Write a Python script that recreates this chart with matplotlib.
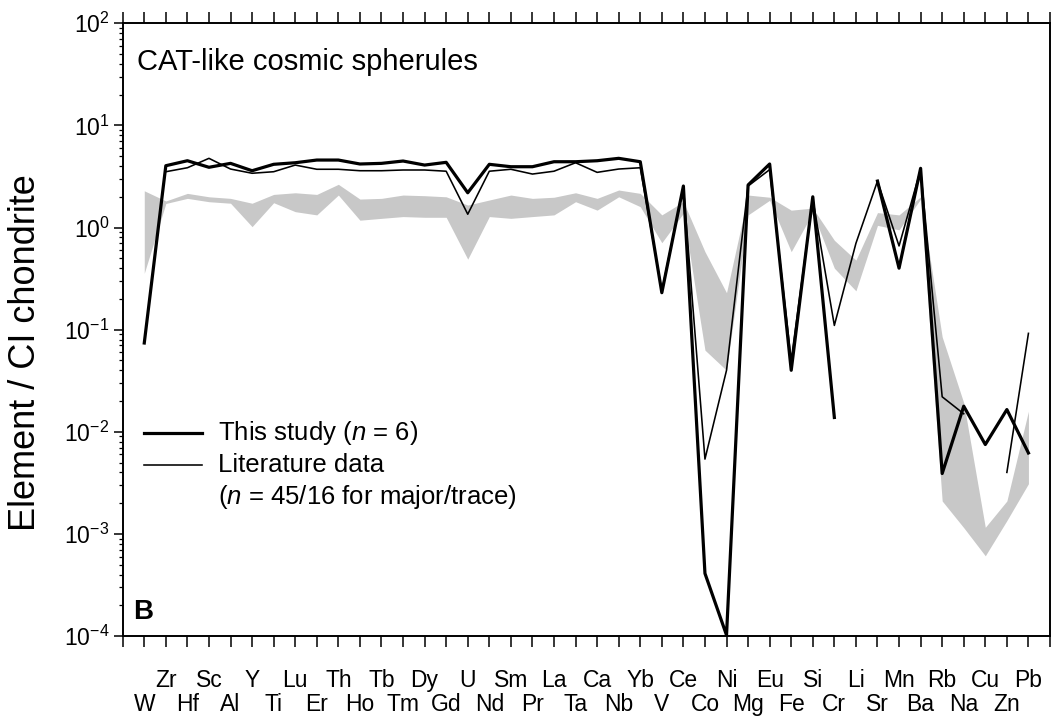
import numpy as np
import matplotlib
matplotlib.use("Agg")
import matplotlib.pyplot as plt
from matplotlib.ticker import LogLocator, LogFormatterSciNotation, NullFormatter, FixedLocator, FixedFormatter

plt.rcParams['font.family'] = ['Liberation Sans', 'DejaVu Sans']
plt.rcParams['mathtext.fontset'] = 'custom'
plt.rcParams['mathtext.rm'] = 'Liberation Sans'
plt.rcParams['mathtext.it'] = 'Liberation Sans:italic'
plt.rcParams['mathtext.bf'] = 'Liberation Sans:bold'
plt.rcParams['axes.unicode_minus'] = False

# Elements ordered by volatility, CI-chondrite normalised
elements = ['W', 'Zr', 'Hf', 'Sc', 'Al', 'Y', 'Ti', 'Lu', 'Er', 'Th', 'Ho', 'Tb',
            'Tm', 'Dy', 'Gd', 'U', 'Nd', 'Sm', 'Pr', 'La', 'Ta', 'Ca', 'Nb', 'Yb',
            'V', 'Ce', 'Co', 'Ni', 'Mg', 'Eu', 'Fe', 'Si', 'Cr', 'Li', 'Sr', 'Mn',
            'Ba', 'Rb', 'Na', 'Cu', 'Zn', 'Pb']

this_study = [0.074, 4.03, 4.51, 3.89, 4.25, 3.60, 4.16, 4.31, 4.58, 4.58, 4.19, 4.25,
              4.48, 4.09, 4.35, 2.19, 4.16, 3.94, 3.94, 4.41, 4.41, 4.51, 4.76, 4.41,
              0.23, 2.55, 4.1e-4, 1.02e-4, 2.61, 4.19, 0.040, 2.0, 0.0138, np.nan, 2.85, 0.40,
              3.8, 0.0039, 0.0178, 0.0075, 0.0165, 0.0062]

literature = [np.nan, 3.52, 3.85, 4.76, 3.74, 3.40, 3.52, 4.09, 3.72, 3.72, 3.60, 3.60,
              3.66, 3.66, 3.56, 1.35, 3.56, 3.72, 3.34, 3.56, 4.31, 3.47, 3.74, 3.85,
              0.24, 2.5, 0.0054, 0.040, 2.55, 3.69, 0.05, 1.9, 0.11, 0.70, 2.85, 0.66,
              3.7, 0.022, 0.015, np.nan, 0.0040, 0.092]

band_low = [0.356, 1.72, 1.93, 1.79, 1.73, 1.02, 1.75, 1.43, 1.33, 2.08, 1.18, 1.23,
            1.28, 1.26, 1.26, 0.49, 1.28, 1.23, 1.28, 1.33, 1.79, 1.48, 2.0, 1.6,
            0.71, 1.38, 0.063, 0.040, 1.33, 1.85, 0.58, 1.4, 0.4, 0.24, 1.05, 0.95,
            1.9, 0.0021, 0.00115, 0.00061, 0.00135, 0.0031]

band_high = [2.29, 1.82, 2.16, 2.0, 1.93, 1.73, 2.11, 2.19, 2.11, 2.65, 1.90, 1.93,
             2.08, 2.05, 2.0, 1.66, 1.86, 2.08, 1.93, 1.98, 2.19, 1.93, 2.33, 2.16,
             1.33, 1.79, 0.58, 0.23, 2.08, 1.98, 1.48, 1.55, 0.75, 0.48, 1.4, 1.33,
             2.0, 0.085, 0.0192, 0.00116, 0.0021, 0.0159]

x = np.arange(len(elements))

fig = plt.figure(figsize=(10.52, 7.16), dpi=100)
ax = fig.add_axes([122.7 / 1052, 80 / 716, 927.3 / 1052, 612.7 / 716])

ax.fill_between(x, band_low, band_high, color='#c8c8c8', linewidth=0, zorder=1)
ax.plot(x, literature, color='black', linewidth=1.15, zorder=3)
ax.plot(x, this_study, color='black', linewidth=2.3, zorder=4)

ax.set_yscale('log')
ax.set_ylim(1e-4, 1e2)
ax.set_xlim(-1, len(elements))

# category ticks: odd positions on the upper label row (major),
# even positions on the lower label row (minor)
n = len(elements)
upper_pos = list(range(-1, n + 1, 2))
lower_pos = list(range(0, n + 1, 2))
upper_lab = [elements[p] if 0 <= p < n else '' for p in upper_pos]
lower_lab = [elements[p] if 0 <= p < n else '' for p in lower_pos]
ax.xaxis.set_major_locator(FixedLocator(upper_pos))
ax.xaxis.set_major_formatter(FixedFormatter(upper_lab))
ax.xaxis.set_minor_locator(FixedLocator(lower_pos))
ax.xaxis.set_minor_formatter(FixedFormatter(lower_lab))
ax.tick_params(axis='x', which='both', direction='out', length=7.7, width=1.1,
               top=True, labeltop=False, labelsize=16.5)
ax.tick_params(axis='x', which='major', pad=16)
ax.tick_params(axis='x', which='minor', pad=33.5)

ax.yaxis.set_major_locator(LogLocator(base=10, numticks=10))
ax.yaxis.set_minor_locator(LogLocator(base=10, subs=np.arange(2, 10), numticks=20))
ax.yaxis.set_major_formatter(LogFormatterSciNotation())
ax.yaxis.set_minor_formatter(NullFormatter())
ax.tick_params(axis='y', which='major', direction='out', length=6.5, width=1.1,
               labelsize=16.5, pad=3, right=False)
ax.tick_params(axis='y', which='minor', direction='out', length=3.2, width=0.9, right=False)

for s in ax.spines.values():
    s.set_linewidth(1.4)

ax.text(-0.105, 0.463, 'Element / CI chondrite', rotation=90, transform=ax.transAxes,
        ha='center', va='center', fontsize=26)

ax.text(0.0154, 0.937, 'CAT-like cosmic spherules', transform=ax.transAxes,
        ha='left', va='center', fontsize=21)
ax.text(0.011, 0.039, 'B', transform=ax.transAxes, ha='left', va='center',
        fontsize=20, fontweight='bold')

# legend drawn in axes coordinates
ax.plot([0.023, 0.086], [0.332, 0.332], transform=ax.transAxes, color='black',
        linewidth=2.3, clip_on=False)
ax.plot([0.023, 0.086], [0.279, 0.279], transform=ax.transAxes, color='black',
        linewidth=1.15, clip_on=False)
ax.text(0.103, 0.332, r'This study ($n$ = 6)', transform=ax.transAxes,
        ha='left', va='center', fontsize=18.5)
ax.text(0.103, 0.279, 'Literature data', transform=ax.transAxes,
        ha='left', va='center', fontsize=18.5)
ax.text(0.103, 0.227, r'($n$ = 45/16 for major/trace)', transform=ax.transAxes,
        ha='left', va='center', fontsize=18.5)

fig.savefig('out.png', dpi=100)
